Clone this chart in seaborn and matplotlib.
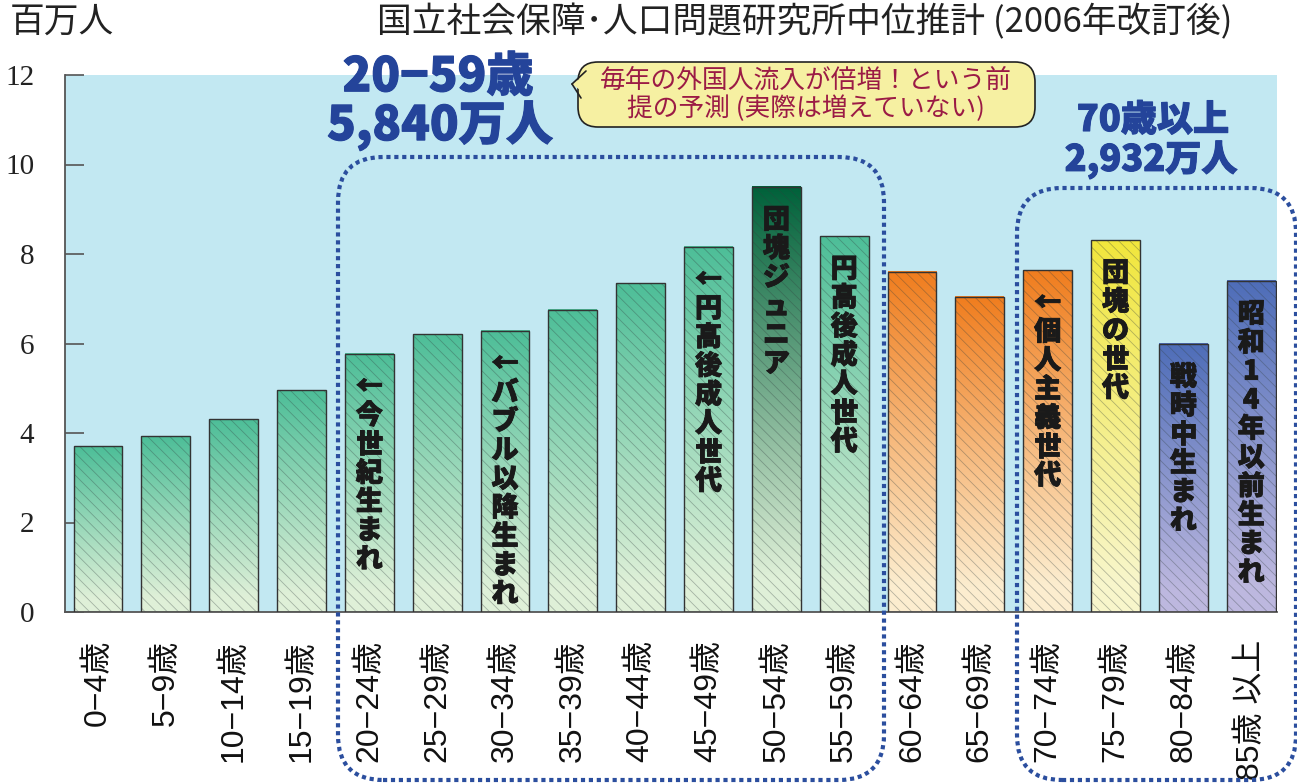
import numpy as np
import pandas as pd
import matplotlib
matplotlib.use("Agg")
import matplotlib.pyplot as plt
import matplotlib.colors as mcolors
import matplotlib.patheffects as pe
import seaborn as sns
from matplotlib.patches import Rectangle, FancyBboxPatch, Polygon
from matplotlib.lines import Line2D

# ---------------- data ----------------
age_groups = ["0−4歳", "5−9歳", "10−14歳", "15−19歳", "20−24歳", "25−29歳",
              "30−34歳", "35−39歳", "40−44歳", "45−49歳", "50−54歳", "55−59歳",
              "60−64歳", "65−69歳", "70−74歳", "75−79歳", "80−84歳", "85歳 以上"]
population_millions = [3.70, 3.93, 4.31, 4.96, 5.77, 6.21, 6.28, 6.75, 7.35, 8.16,
                       9.50, 8.40, 7.60, 7.04, 7.64, 8.31, 5.99, 7.40]
color_groups = ["green", "green", "green", "green", "green", "green", "green", "green",
                "green", "green", "darkgreen", "green", "orange", "orange", "orange",
                "yellow", "blue", "blue"]
generation_labels = ["", "", "", "", "←今世紀生まれ", "", "←バブル以降生まれ", "", "",
                     "←円高後成人世代", "団塊ジュニア", "円高後成人世代", "", "",
                     "←個人主義世代", "団塊の世代", "戦時中生まれ", "昭和14年以前生まれ"]
title_text = "国立社会保障･人口問題研究所中位推計 (2006年改訂後)"
unit_text = "百万人"
callout_text = "毎年の外国人流入が倍増！という前\n提の予測 (実際は増えていない)"
group1_text = ["20−59歳", "5,840万人"]
group2_text = ["70歳以上", "2,932万人"]

gradients = {
    "green": ("#4DBE98", "#DFF0D8"),
    "darkgreen": ("#00613A", "#DFF0D8"),
    "orange": ("#F07D1E", "#FCEDCF"),
    "yellow": ("#F1E63C", "#F8F6CB"),
    "blue": ("#4E6DB8", "#BDB8DF"),
}

# ---------------- style ----------------
sns.set_theme(style="white")
plt.rcParams["font.family"] = ["Noto Sans CJK JP", "DejaVu Sans"]
plt.rcParams["hatch.linewidth"] = 0.6

W, H = 1297, 783
fig = plt.figure(figsize=(W / 100, H / 100), dpi=100)
fig.patch.set_facecolor("white")
ax = fig.add_axes([65 / W, 1 - 612 / H, 1212 / W, 537 / H])

df = pd.DataFrame({"age": age_groups, "pop": population_millions})
sns.barplot(data=df, x="age", y="pop", ax=ax, width=0.72, color="white",
            edgecolor="#333333", linewidth=1.0, saturation=1)

ax.set_facecolor("#C2E8F2")

label_fx = [pe.withStroke(linewidth=0.6, foreground="#1a1a1a")]

# gradients + hatch
for p, grp, lab, val in zip(ax.patches, color_groups, generation_labels, population_millions):
    x0, w, h = p.get_x(), p.get_width(), p.get_height()
    top = np.array(mcolors.to_rgb(gradients[grp][0]))
    bot = np.array(mcolors.to_rgb(gradients[grp][1]))
    t = np.linspace(0, 1, 256)
    t = np.clip(t / 0.92, 0, 1)[:, None]
    img = (top[None, :] * (1 - t) + bot[None, :] * t)[:, None, :]
    ax.imshow(img, extent=(x0, x0 + w, 0, h), origin="upper", aspect="auto",
              interpolation="bilinear", zorder=1.5)
    ax.add_patch(Rectangle((x0, 0), w, h, fill=False, hatch="\\\\\\",
                           edgecolor=(0.2, 0.25, 0.25, 0.35), lw=0, zorder=2))
    p.set_facecolor("none")
    p.set_zorder(3)
    if lab:
        xc = x0 + w / 2
        for i, ch in enumerate(lab):
            ax.annotate(ch, xy=(xc, val - 0.42), xytext=(0, -i * 20.7),
                        textcoords="offset points", ha="center", va="top",
                        fontsize=19.5, fontweight="black", color="#1a1a1a",
                        family=["Noto Sans CJK JP", "DejaVu Sans"], zorder=4,
                        path_effects=label_fx)

ax.set_xlim(-0.486, 17.38)
ax.set_ylim(0, 12)
ax.set_yticks(range(0, 13, 2))
ax.set_xlabel("")
ax.set_ylabel("")
for s in ["top", "right"]:
    ax.spines[s].set_visible(False)
for s in ["left", "bottom"]:
    ax.spines[s].set_color("#555555")
    ax.spines[s].set_linewidth(1.3)
ax.tick_params(axis="y", direction="in", length=14, width=1.2, color="#555555",
               pad=22, left=True)
ax.tick_params(axis="x", length=0, pad=20)
for lbl in ax.get_yticklabels():
    lbl.set_family("Liberation Serif")
    lbl.set_fontsize(21)
    lbl.set_color("#222222")
ax.set_xticks(range(len(age_groups)))
ax.set_xticklabels(age_groups, rotation=90, fontsize=23, color="#111111",
                   family=["Liberation Sans", "Noto Sans CJK JP"], va="top", ha="center")

# ---------------- annotations (figure pixel space) ----------------
inch = fig.dpi_scale_trans


def px(x, y):
    return x / 100, (H - y) / 100


dot_kw = dict(boxstyle="round,pad=0,rounding_size=0.45", fill=False,
              edgecolor="#2B4E9E", lw=3.0, linestyle=(0, (1.0, 0.9)),
              transform=inch, clip_on=False, zorder=10)
x0, y0 = px(338, 780)
fig.add_artist(FancyBboxPatch((x0, y0), 5.46, 6.23, **dot_kw))
x0, y0 = px(1017, 780)
fig.add_artist(FancyBboxPatch((x0, y0), 2.79, 5.92, **dot_kw))

# callout
x0, y0 = px(578, 127)
fig.add_artist(FancyBboxPatch((x0, y0), 4.57, 0.65,
                              boxstyle="round,pad=0,rounding_size=0.2",
                              facecolor="#F6F0A2", edgecolor="#222222", lw=1.2,
                              transform=inch, zorder=11))
fig.add_artist(Polygon([px(572, 84), px(592, 70), px(592, 99)], closed=True,
                       facecolor="#F6F0A2", edgecolor="none", transform=inch, zorder=12))
for bx, by in [(586, 71), (581, 98)]:
    xa, ya = px(572, 84)
    xb, yb = px(bx, by)
    fig.add_artist(Line2D([xa, xb], [ya, yb], color="#222222", lw=1.2,
                          transform=inch, zorder=12))
fig.text(806 / W, 1 - 95 / H, callout_text, ha="center", va="center",
         fontsize=18.5, color="#9B1B45", linespacing=1.1, zorder=13)

# big blue labels
blue = "#24449A"
blue_fx = [pe.withStroke(linewidth=0.8, foreground=blue)]
fig.text(438 / W, 1 - 77 / H, group1_text[0], ha="center", va="center",
         fontsize=34, fontweight="black", color=blue, zorder=13, path_effects=blue_fx)
fig.text(440 / W, 1 - 126 / H, group1_text[1], ha="center", va="center",
         fontsize=34, fontweight="black", color=blue, zorder=13, path_effects=blue_fx)
fig.text(1153 / W, 1 - 120 / H, group2_text[0], ha="center", va="center",
         fontsize=26, fontweight="black", color=blue, zorder=13, path_effects=blue_fx)
fig.text(1151 / W, 1 - 160 / H, group2_text[1], ha="center", va="center",
         fontsize=26, fontweight="black", color=blue, zorder=13, path_effects=blue_fx)

# titles
fig.text(805 / W, 1 - 22 / H, title_text, ha="center", va="center",
         fontsize=25, color="#222222")
fig.text(10 / W, 1 - 22 / H, unit_text, ha="left", va="center",
         fontsize=25, color="#222222")

fig.savefig("out.png", dpi=100)
